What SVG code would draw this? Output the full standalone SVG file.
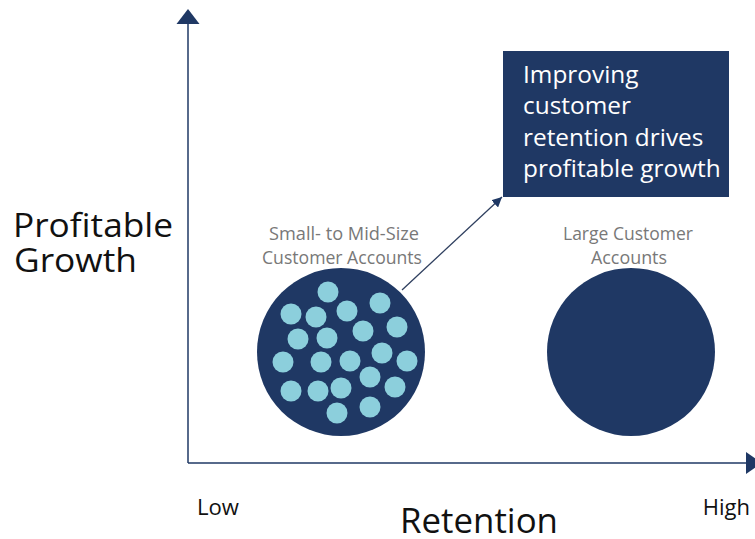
<svg xmlns="http://www.w3.org/2000/svg" width="755" height="539" viewBox="0 0 755 539">
  <style>
    .axis { stroke: #1f3864; stroke-width: 1.5; fill: none; }
    .big { font-family: "Open Sans", "Liberation Sans", sans-serif; fill: #111111; }
    .tick { font-family: "Open Sans", "Liberation Sans", sans-serif; font-size: 22px; fill: #111111; }
    .group-label { font-family: "Open Sans", "Liberation Sans", sans-serif; font-size: 18px; fill: #787878; text-anchor: middle; }
    .callout-text { font-family: "Open Sans", "Liberation Sans", sans-serif; font-size: 24.4px; fill: #ffffff; }
    .navy { fill: #1f3864; }
    .dot { fill: #8ccfdc; }
  </style>
  <defs>
    <marker id="calloutHead" viewBox="0 0 10 10" refX="10" refY="5" markerWidth="10" markerHeight="10" markerUnits="userSpaceOnUse" orient="auto">
      <path d="M0,0 L10,5 L0,10 z" fill="#1f3864"/>
    </marker>
  </defs>

  <rect width="755" height="539" fill="#ffffff"/>

  <!-- axes and pointer -->
  <g id="connectors">
    <path class="axis" d="M188,463 L188,12"/>
    <path d="M176.5,24 L188,9 L199.5,24 z" class="navy"/>
    <path class="axis" d="M188,463 L748,463"/>
    <path d="M746,452 L762,463 L746,474 z" class="navy"/>
    <path d="M402,290 L502,197" stroke="#2f3f5f" stroke-width="1.3" fill="none" marker-end="url(#calloutHead)"/>
  </g>

  <g id="axis-labels">
    <text class="big" x="13" y="237" font-size="33" textLength="160" lengthAdjust="spacingAndGlyphs">Profitable</text>
    <text class="big" x="14" y="272" font-size="33" textLength="123" lengthAdjust="spacingAndGlyphs">Growth</text>
    <text class="big" x="400" y="533" font-size="34.5" textLength="158" lengthAdjust="spacingAndGlyphs">Retention</text>
    <text class="tick" x="197" y="515" textLength="42" lengthAdjust="spacingAndGlyphs">Low</text>
    <text class="tick" x="750" y="515" text-anchor="end">High</text>
  </g>

  <g id="small-accounts">
    <text class="group-label" x="344" y="240" textLength="150" lengthAdjust="spacingAndGlyphs">Small- to Mid-Size</text>
    <text class="group-label" x="342" y="264" textLength="160" lengthAdjust="spacingAndGlyphs">Customer Accounts</text>
    <circle class="navy" cx="341" cy="352" r="84"/>
    <g class="dot">
      <circle cx="328" cy="292" r="10.5"/>
      <circle cx="380" cy="303" r="10.5"/>
      <circle cx="291" cy="314" r="10.5"/>
      <circle cx="316" cy="317" r="10.5"/>
      <circle cx="347" cy="311" r="10.5"/>
      <circle cx="397" cy="327" r="10.5"/>
      <circle cx="363" cy="331" r="10.5"/>
      <circle cx="298" cy="339" r="10.5"/>
      <circle cx="327" cy="338" r="10.5"/>
      <circle cx="382" cy="353" r="10.5"/>
      <circle cx="283" cy="362" r="10.5"/>
      <circle cx="321" cy="362" r="10.5"/>
      <circle cx="350" cy="361" r="10.5"/>
      <circle cx="407" cy="361" r="10.5"/>
      <circle cx="370" cy="377" r="10.5"/>
      <circle cx="291" cy="391" r="10.5"/>
      <circle cx="318" cy="391" r="10.5"/>
      <circle cx="341" cy="388" r="10.5"/>
      <circle cx="395" cy="387" r="10.5"/>
      <circle cx="337" cy="413" r="10.5"/>
      <circle cx="370" cy="407" r="10.5"/>
    </g>
  </g>

  <g id="large-accounts">
    <text class="group-label" x="628" y="240" textLength="130" lengthAdjust="spacingAndGlyphs">Large Customer</text>
    <text class="group-label" x="629" y="264" textLength="76" lengthAdjust="spacingAndGlyphs">Accounts</text>
    <circle class="navy" cx="631" cy="352" r="84"/>
  </g>

  <g id="callout">
    <rect class="navy" x="503" y="51" width="226" height="146"/>
    <text class="callout-text" x="523" y="83">Improving</text>
    <text class="callout-text" x="523" y="114">customer</text>
    <text class="callout-text" x="523" y="146">retention drives</text>
    <text class="callout-text" x="523" y="177">profitable growth</text>
  </g>
</svg>
